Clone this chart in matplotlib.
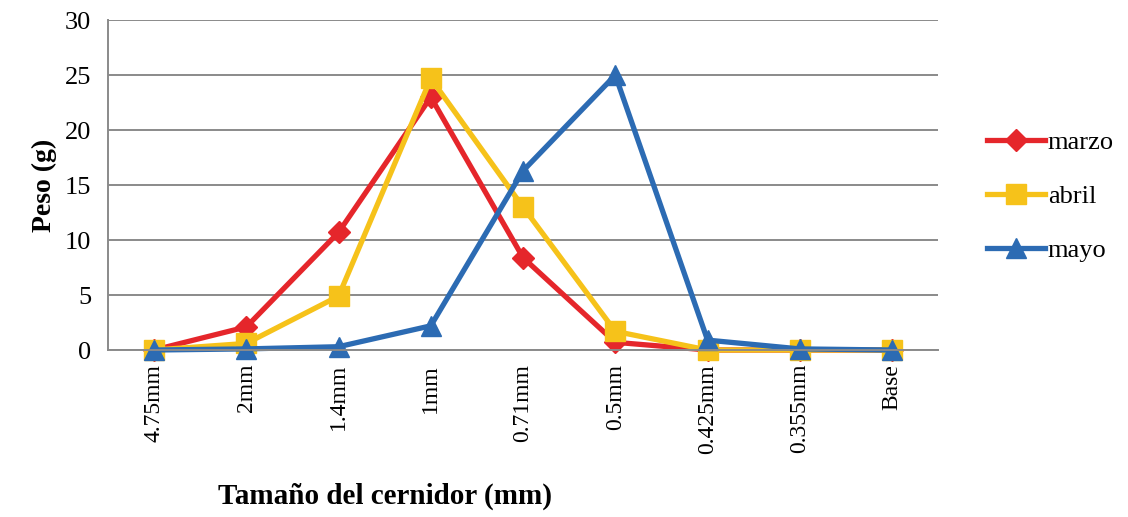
import matplotlib.pyplot as plt

plt.rcParams['font.family'] = ['Liberation Serif', 'DejaVu Serif']

# Sieve sizes and retained weight per month
sieves = ['4.75mm', '2mm', '1.4mm', '1mm', '0.71mm', '0.5mm', '0.425mm', '0.355mm', 'Base']
marzo = [0, 2.1, 10.7, 23.0, 8.4, 0.7, 0, 0, 0]
abril = [0, 0.6, 4.9, 24.7, 13.0, 1.7, 0, 0, 0]
mayo = [0, 0.1, 0.3, 2.2, 16.3, 25.0, 0.9, 0.1, 0]

fig = plt.figure(figsize=(11.28, 5.17), dpi=100)
ax = fig.add_axes([0.0957, 0.323, 0.736, 0.638])

x = range(len(sieves))
ax.plot(x, marzo, color='#E5262B', lw=3.8, marker='D', ms=11, label='marzo', clip_on=False)
ax.plot(x, abril, color='#F6C21A', lw=3.8, marker='s', ms=15, label='abril', clip_on=False)
ax.plot(x, mayo, color='#2C6BB3', lw=3.8, marker='^', ms=15, label='mayo', clip_on=False)

ax.set_xlim(-0.5, 8.5)
ax.set_ylim(0, 30)
ax.set_yticks(range(0, 31, 5))
ax.set_xticks(list(x))
ax.set_xticklabels(sieves, rotation=90, fontsize=17)
ax.tick_params(axis='y', labelsize=19, length=0, pad=12)
ax.tick_params(axis='x', length=0, pad=10)
ax.yaxis.grid(True, color='#8a8a8a', lw=1.4)
ax.set_axisbelow(True)
for s in ['top', 'right']:
    ax.spines[s].set_visible(False)
for s in ['left', 'bottom']:
    ax.spines[s].set_color('#8a8a8a')
    ax.spines[s].set_linewidth(1.4)

ax.set_ylabel('Peso (g)', fontsize=20, fontweight='bold', labelpad=6)
fig.text(0.341, 0.04, 'Tamaño del cernidor (mm)', fontsize=21, fontweight='bold',
         ha='center', va='center')

fig.legend(loc='center left', bbox_to_anchor=(0.854, 0.62), frameon=False,
           fontsize=19, labelspacing=1.15, handlelength=2.2, handletextpad=0.1)

fig.savefig('out.png', dpi=100)
